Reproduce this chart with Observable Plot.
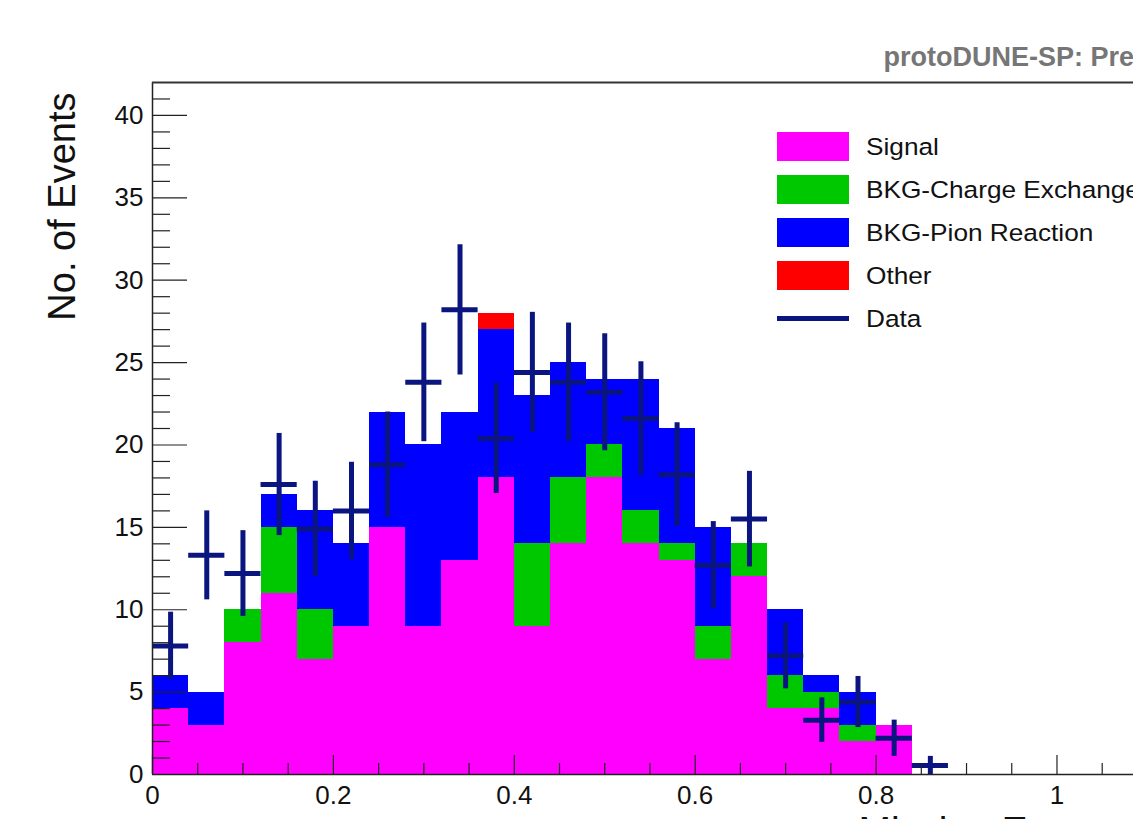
<!DOCTYPE html>
<html>
<head>
<meta charset="utf-8">
<script src="https://cdn.jsdelivr.net/npm/d3@7"></script>
<script src="https://cdn.jsdelivr.net/npm/@observablehq/plot@0.6"></script>
<style>
  html, body { margin: 0; padding: 0; overflow: hidden; background: #fff; }
  #wrap { position: relative; width: 1133px; height: 819px; overflow: hidden; }
  #wrap svg { display: block; }
  .legend { position: absolute; left: 777px; top: 125px; font-family: "Liberation Sans", Arial, Helvetica, sans-serif; font-size: 24.5px; color: #111; }
  .legend .row { display: flex; align-items: center; height: 43px; white-space: nowrap; }
  .legend .sw { width: 72px; height: 29px; margin-right: 17px; flex: none; }
  .legend .ln { width: 72px; height: 5px; margin-right: 17px; flex: none; }
  .legend .txt { display: inline-block; transform: scaleX(1.07); transform-origin: left center; }
</style>
</head>
<body>
<div id="wrap"></div>
<script>
// Histogram binning: 0.04-wide bins in missing energy
const binLow = [0.00, 0.04, 0.08, 0.12, 0.16, 0.20, 0.24, 0.28, 0.32, 0.36, 0.40,
                0.44, 0.48, 0.52, 0.56, 0.60, 0.64, 0.68, 0.72, 0.76, 0.80, 0.84];
const binWidth = 0.04;

// Stacked MC components (bottom to top)
const seriesNames = ["Signal", "BKG-Charge Exchange", "BKG-Pion Reaction", "Other"];
const seriesColors = ["#ff00ff", "#00c800", "#0000ff", "#ff0000"];
const signal   = [4, 3, 8, 11, 7, 9, 15, 9, 13, 18, 9, 14, 18, 14, 13, 7, 12, 4, 4, 2, 3, 0];
const chargeEx = [0, 0, 2, 4, 3, 0, 0, 0, 0, 0, 5, 4, 2, 2, 1, 2, 2, 2, 1, 1, 0, 0];
const pionReac = [2, 2, 0, 2, 6, 5, 7, 11, 9, 9, 9, 7, 4, 8, 7, 6, 0, 4, 1, 2, 0, 0];
const other    = [0, 0, 0, 0, 0, 0, 0, 0, 0, 1, 0, 0, 0, 0, 0, 0, 0, 0, 0, 0, 0, 0];

// Data (normalised) with statistical errors
const dataValues = [7.8, 13.3, 12.2, 17.6, 14.9, 16.0, 18.8, 23.8, 28.2, 20.4, 24.4,
                    23.8, 23.2, 21.6, 18.2, 12.7, 15.5, 7.2, 3.3, 4.4, 2.2, 0.55];
const dataErrors = [2.05, 2.7, 2.6, 3.1, 2.9, 2.95, 3.2, 3.6, 3.95, 3.35, 3.65,
                    3.6, 3.55, 3.45, 3.15, 2.65, 2.9, 2.0, 1.35, 1.55, 1.1, 0.55];
const dataColor = "#0b1580";

// Axis ticks
const xMajor = [0, 0.2, 0.4, 0.6, 0.8, 1.0];
const xMinor = [0.05, 0.1, 0.15, 0.25, 0.3, 0.35, 0.45, 0.5, 0.55, 0.65, 0.7, 0.75, 0.85, 0.9, 0.95, 1.05];
const yMajor = [0, 5, 10, 15, 20, 25, 30, 35, 40];
const yMinor = [1, 2, 3, 4, 6, 7, 8, 9, 11, 12, 13, 14, 16, 17, 18, 19, 21, 22, 23, 24,
                26, 27, 28, 29, 31, 32, 33, 34, 36, 37, 38, 39, 41];
const xMax = 1.0846;
const yMax = 42;

const components = [signal, chargeEx, pionReac, other];
const stackRows = [];
seriesNames.forEach((name, j) => {
  binLow.forEach((lo, i) => {
    stackRows.push({lo, hi: lo + binWidth, series: name, count: components[j][i]});
  });
});

const points = binLow.map((lo, i) => ({
  lo, hi: lo + binWidth, mid: lo + binWidth / 2, v: dataValues[i], e: dataErrors[i]
}));

const font = '"Liberation Sans", Arial, Helvetica, sans-serif';

const chart = Plot.plot({
  width: 1133,
  height: 860,
  marginLeft: 152,
  marginRight: 0,
  marginTop: 82,
  marginBottom: 86,
  style: {fontFamily: font, background: "#fff", color: "#111", overflow: "visible"},
  x: {domain: [0, xMax], label: null},
  y: {domain: [0, yMax], label: null},
  color: {domain: seriesNames, range: seriesColors},
  marks: [
    Plot.rectY(stackRows, {x1: "lo", x2: "hi", y: "count", fill: "series", shapeRendering: "crispEdges"}),
    // data: horizontal bin-width bars and vertical error bars
    Plot.ruleY(points, {y: "v", x1: "lo", x2: "hi", stroke: dataColor, strokeWidth: 5}),
    Plot.ruleX(points, {x: "mid", y1: d => Math.max(0, d.v - d.e), y2: d => d.v + d.e, stroke: dataColor, strokeWidth: 5}),
    // frame lines
    Plot.ruleX([0], {stroke: "#222", strokeWidth: 1.5}),
    Plot.ruleY([0], {stroke: "#222", strokeWidth: 1.5}),
    Plot.ruleY([yMax], {stroke: "#333", strokeWidth: 2}),
    // inward ticks
    Plot.axisY({ticks: yMajor, tickSize: -35, tickFormat: () => "", label: null, stroke: "#222", strokeWidth: 1.2}),
    Plot.axisY({ticks: yMinor, tickSize: -18, tickFormat: () => "", label: null, stroke: "#222", strokeWidth: 1.2}),
    Plot.axisX({ticks: xMajor, tickSize: -19, tickFormat: () => "", label: null, stroke: "#222", strokeWidth: 1.2}),
    Plot.axisX({ticks: xMinor, tickSize: -11, tickFormat: () => "", label: null, stroke: "#222", strokeWidth: 1.2}),
    // tick labels
    Plot.axisY({ticks: yMajor, tickSize: 0, tickPadding: 9, fontSize: 26, label: null, tickFormat: d => String(d)}),
    Plot.axisX({ticks: xMajor, tickSize: 0, tickPadding: 11, fontSize: 26, label: null, tickFormat: d => String(d)}),
    // titles
    Plot.text(["No. of Events"], {frameAnchor: "top-left", dx: -78, dy: 10, rotate: -90,
      textAnchor: "end", lineAnchor: "bottom", fontSize: 38, fill: "#111"}),
    Plot.text(["Missing Energy [GeV]"], {frameAnchor: "bottom-left", dx: 706, dy: 69,
      textAnchor: "start", lineAnchor: "bottom", fontSize: 39, fill: "#111"}),
    Plot.text(["protoDUNE-SP: Preliminary"], {frameAnchor: "top-left", dx: 731, dy: -17,
      textAnchor: "start", lineAnchor: "bottom", fontSize: 27, fontWeight: "bold", fill: "#767676"})
  ]
});

const wrap = document.getElementById("wrap");
wrap.appendChild(chart);

// legend
const legend = document.createElement("div");
legend.className = "legend";
function legendRow(swatchClass, color, name) {
  const row = document.createElement("div");
  row.className = "row";
  const sw = document.createElement("div");
  sw.className = swatchClass;
  sw.style.background = color;
  const label = document.createElement("span");
  label.className = "txt";
  label.textContent = name;
  row.append(sw, label);
  legend.appendChild(row);
}
seriesNames.forEach((name, j) => legendRow("sw", seriesColors[j], name));
legendRow("ln", dataColor, "Data");
wrap.appendChild(legend);
</script>
</body>
</html>
